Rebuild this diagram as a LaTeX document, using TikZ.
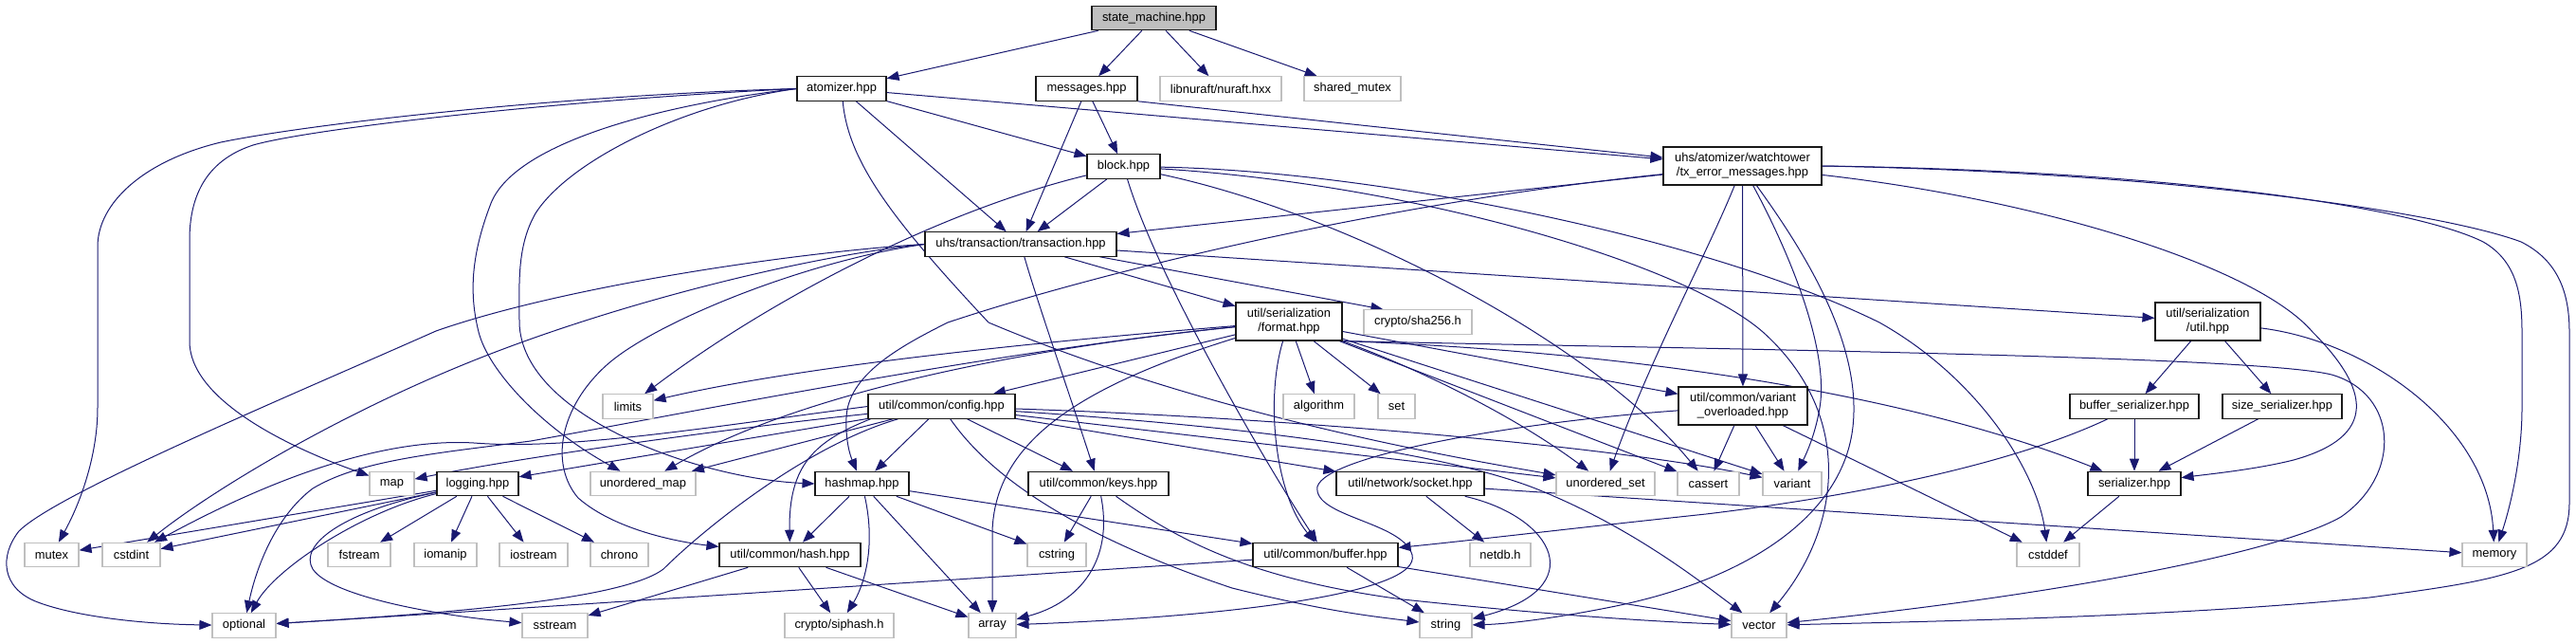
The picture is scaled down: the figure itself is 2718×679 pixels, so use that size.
\documentclass[tikz,border=0pt]{standalone}
\usepackage{fontspec}
\setmainfont{Liberation Sans}
\usetikzlibrary{arrows.meta,backgrounds}
\definecolor{edgec}{HTML}{191970}
\definecolor{grayb}{HTML}{BFBFBF}
\begin{document}
\begin{tikzpicture}[x=1pt,y=-1pt,
  font=\fontsize{12.9pt}{15pt}\selectfont,
  nbox/.style={draw, line width=1.1pt, inner sep=0pt, minimum height=25.5pt, align=center, fill=white},
  fn/.style={nbox, draw=black!90},
  sys/.style={nbox, draw=grayb},
  rootn/.style={nbox, draw=black!90, fill=grayb},
  edg/.style={draw=edgec, line width=1pt, -{Triangle[length=13pt,width=10pt]}},
  ]
\useasboundingbox (0,0) rectangle (2718,679);
% nodes
\node[rootn, minimum width=131pt] (sm) at (1217.5,19) {state\_machine.hpp};
\node[fn, minimum width=94pt] (atom) at (888,93.5) {atomizer.hpp};
\node[fn, minimum width=107pt] (msg) at (1146.5,93.5) {messages.hpp};
\node[sys, minimum width=128pt] (nuraft) at (1288,93.5) {libnuraft/nuraft.hxx};
\node[sys, minimum width=102pt] (shm) at (1427,93.5) {shared\_mutex};
\node[fn, minimum width=77pt] (block) at (1185.5,175.5) {block.hpp};
\node[fn, minimum width=167pt, minimum height=40pt] (txerr) at (1838.5,175) {uhs/atomizer/watchtower\\/tx\_error\_messages.hpp};
\node[fn, minimum width=202pt] (trans) at (1077,257.5) {uhs/transaction/transaction.hpp};
\node[fn, minimum width=112pt, minimum height=40pt] (format) at (1360,339) {util/serialization\\/format.hpp};
\node[sys, minimum width=114pt] (sha) at (1496,339.5) {crypto/sha256.h};
\node[fn, minimum width=111pt, minimum height=40pt] (sutil) at (2329.5,339) {util/serialization\\/util.hpp};
\node[sys, minimum width=53pt] (limits) at (662.5,428.5) {limits};
\node[fn, minimum width=155pt] (config) at (993.5,428.5) {util/common/config.hpp};
\node[sys, minimum width=75pt] (algo) at (1391.5,428.5) {algorithm};
\node[sys, minimum width=39pt] (set) at (1473.5,428.5) {set};
\node[fn, minimum width=136pt, minimum height=40pt] (varov) at (1839,428) {util/common/variant\\\_overloaded.hpp};
\node[fn, minimum width=136pt] (bufser) at (2252,428.5) {buffer\_serializer.hpp};
\node[fn, minimum width=126pt] (sizeser) at (2408,428.5) {size\_serializer.hpp};
\node[sys, minimum width=47pt] (map) at (413.5,510) {map};
\node[fn, minimum width=86pt] (logging) at (504,510) {logging.hpp};
\node[sys, minimum width=111pt] (umap) at (678.5,510) {unordered\_map};
\node[fn, minimum width=99pt] (hashmap) at (909.5,510) {hashmap.hpp};
\node[fn, minimum width=148pt] (keys) at (1159,510) {util/common/keys.hpp};
\node[fn, minimum width=156pt] (socket) at (1488,510) {util/network/socket.hpp};
\node[sys, minimum width=104pt] (uset) at (1694,510) {unordered\_set};
\node[sys, minimum width=65pt] (cassert) at (1802.5,510) {cassert};
\node[sys, minimum width=62pt] (variant) at (1891,510) {variant};
\node[fn, minimum width=98pt] (ser) at (2252,510) {serializer.hpp};
\node[sys, minimum width=57pt] (mutex) at (54.5,585) {mutex};
\node[sys, minimum width=61pt] (cstdint) at (138.5,585) {cstdint};
\node[sys, minimum width=66pt] (fstream) at (379,585) {fstream};
\node[sys, minimum width=66pt] (iomanip) at (470,585) {iomanip};
\node[sys, minimum width=72pt] (iostream) at (563,585) {iostream};
\node[sys, minimum width=61pt] (chrono) at (653.5,585) {chrono};
\node[fn, minimum width=149pt] (hash) at (833.5,585) {util/common/hash.hpp};
\node[sys, minimum width=62pt] (cstring) at (1115,585) {cstring};
\node[fn, minimum width=153pt] (buffer) at (1398.5,585) {util/common/buffer.hpp};
\node[sys, minimum width=64pt] (netdb) at (1583,585) {netdb.h};
\node[sys, minimum width=66pt] (cstddef) at (2161,585) {cstddef};
\node[sys, minimum width=68pt] (memory) at (2632,585) {memory};
\node[sys, minimum width=67pt] (optional) at (257.5,659.5) {optional};
\node[sys, minimum width=69pt] (sstream) at (585.5,659.5) {sstream};
\node[sys, minimum width=115pt] (siphash) at (885.5,659.5) {crypto/siphash.h};
\node[sys, minimum width=50pt] (array) at (1047,659.5) {array};
\node[sys, minimum width=55pt] (string) at (1525.5,659.5) {string};
\node[sys, minimum width=58pt] (vector) at (1856,659.5) {vector};

\begin{pgfonlayer}{background}
% state_machine
\draw[edg] (sm) -- (atom);
\draw[edg] (sm) -- (msg);
\draw[edg] (sm) -- (nuraft);
\draw[edg] (sm) -- (shm);
% atomizer
\draw[edg] (atom.west) .. controls (600,100) and (330,130) .. (233,150) .. controls (150,170) and (103,215) .. (103,260) -- (103,430) .. controls (103,480) and (85,530) .. (mutex);
\draw[edg] (atom.west) .. controls (600,105) and (330,135) .. (267,153) .. controls (215,170) and (200,210) .. (200,253) -- (200,360) .. controls (200,420) and (300,470) .. (map);
\draw[edg] (atom.west) .. controls (700,110) and (540,150) .. (517,217) .. controls (497,270) and (495,310) .. (505,350) .. controls (515,390) and (570,450) .. (umap);
\draw[edg] (atom.west) .. controls (720,110) and (600,170) .. (565,225) .. controls (545,260) and (548,300) .. (548,340) .. controls (550,440) and (740,505) .. (hashmap.west);
\draw[edg] (atom) .. controls (895,170) and (940,230) .. (1043,340) .. controls (1280,440) and (1550,485) .. (uset);
\draw[edg] (atom) -- (block);
\draw[edg] (atom) -- (trans);
\draw[edg] (atom) -- (txerr);
% messages
\draw[edg] (msg) -- (block);
\draw[edg] (msg) -- (trans);
\draw[edg] (msg.south east) -- (txerr);
% block
\draw[edg] (block) -- (trans);
\draw[edg] (block) .. controls (1000,220) and (820,310) .. (limits);
\draw[edg] (block) .. controls (1220,290) and (1330,480) .. (buffer);
\draw[edg] (block) .. controls (1420,225) and (1680,360) .. (cassert);
\draw[edg] (block) .. controls (1450,180) and (1800,250) .. (1983,340) .. controls (2090,400) and (2150,500) .. (cstddef);
\draw[edg] (block) .. controls (1500,195) and (1780,280) .. (1860,350) .. controls (1960,440) and (1940,560) .. (vector);
% tx_error_messages
\draw[edg] (txerr) -- (trans);
\draw[edg] (txerr) .. controls (1450,215) and (1150,290) .. (1000,340) .. controls (950,365) and (895,395) .. (893,440) .. controls (892,465) and (897,480) .. (hashmap);
\draw[edg] (txerr) -- (varov);
\draw[edg] (txerr) .. controls (1800,270) and (1740,380) .. (uset);
\draw[edg] (txerr) .. controls (1890,270) and (1930,370) .. (1920,430) .. controls (1915,460) and (1905,480) .. (variant);
\draw[edg] (txerr) .. controls (2150,210) and (2380,280) .. (2440,350) .. controls (2500,410) and (2510,460) .. (2420,485) .. controls (2380,495) and (2330,500) .. (ser);
\draw[edg] (txerr.east) .. controls (2300,180) and (2550,220) .. (2620,255) .. controls (2655,275) and (2661,310) .. (2661,350) -- (2661,430) .. controls (2661,480) and (2650,530) .. (memory);
\draw[edg] (txerr.east) .. controls (2300,182) and (2580,225) .. (2660,255) .. controls (2700,275) and (2711,310) .. (2711,350) -- (2711,530) .. controls (2711,600) and (2650,610) .. (2500,630) .. controls (2300,650) and (2050,655) .. (vector);
\draw[edg] (txerr) .. controls (1900,260) and (1965,360) .. (1955,450) .. controls (1945,540) and (1850,610) .. (1700,640) .. controls (1640,652) and (1590,658) .. (string);
% transaction
\draw[edg] (trans.west) .. controls (850,265) and (600,300) .. (460,349) .. controls (300,420) and (60,520) .. (20,560) .. controls (0,585) and (0,620) .. (40,635) .. controls (80,650) and (150,658) .. (optional);
\draw[edg] (trans.west) .. controls (850,270) and (650,320) .. (500,380) .. controls (350,440) and (220,520) .. (cstdint);
\draw[edg] (trans.west) .. controls (850,275) and (690,340) .. (640,385) .. controls (590,430) and (580,490) .. (610,525) .. controls (650,560) and (720,572) .. (hash);
\draw[edg] (trans) .. controls (1095,320) and (1130,420) .. (keys);
\draw[edg] (trans) -- (format);
\draw[edg] ([xshift=-18pt]trans.south east) -- ([xshift=21pt]sha.north west);
\draw[edg] (trans) -- (sutil);
% format
\draw[edg] (format) -- (config);
\draw[edg] (format) .. controls (1130,410) and (1050,470) .. (1047,560) -- (array);
\draw[edg] (format) .. controls (1100,360) and (850,385) .. (limits);
\draw[edg] (format) .. controls (1100,365) and (850,410) .. (umap);
\draw[edg] (format) .. controls (1050,370) and (700,440) .. (560,465) .. controls (460,478) and (380,485) .. (330,515) .. controls (290,545) and (270,600) .. (optional);
\draw[edg] (format) -- (algo);
\draw[edg] (format) -- (set);
\draw[edg] (format) .. controls (1500,390) and (1600,440) .. (uset);
\draw[edg] (format) -- (cassert);
\draw[edg] (format) -- (variant);
\draw[edg] (format) -- (varov);
\draw[edg] (format.south east) .. controls (1700,370) and (2000,410) .. (ser);
\draw[edg] (format.south east) .. controls (1800,368) and (2380,375) .. (2460,395) .. controls (2530,415) and (2535,500) .. (2470,545) .. controls (2400,585) and (2150,630) .. (vector);
\draw[edg] (format) .. controls (1335,420) and (1345,520) .. (buffer);
% config
\draw[edg] (config) .. controls (800,448) and (560,480) .. (map);
\draw[edg] (config) -- (logging);
\draw[edg] (config) -- (umap);
\draw[edg] (config.west) .. controls (750,450) and (600,475) .. (500,467) .. controls (380,460) and (240,530) .. (cstdint);
\draw[edg] (config) .. controls (850,470) and (740,560) .. (700,600) .. controls (660,630) and (500,645) .. (optional);
\draw[edg] (config) -- (hashmap);
\draw[edg] ([xshift=3pt]config.south west) .. controls (860,465) and (832,490) .. (hash);
\draw[edg] (config) -- (keys);
\draw[edg] (config) .. controls (1050,510) and (1150,570) .. (1300,620) .. controls (1400,645) and (1450,650) .. (string);
\draw[edg] (config) -- (uset);
\draw[edg] (config) .. controls (1350,440) and (1700,470) .. (variant);
\draw[edg] (config) .. controls (1350,452) and (1530,480) .. (1620,515) .. controls (1720,555) and (1790,610) .. (vector);
\draw[edg] (config) -- (socket);
% keys
\draw[edg] (keys) -- (cstring);
\draw[edg] (keys) .. controls (1175,590) and (1140,635) .. (array);
\draw[edg] (keys) .. controls (1250,575) and (1330,612) .. (1480,632) .. controls (1650,650) and (1760,656) .. (vector);
% hashmap
\draw[edg] (hashmap) -- (hash);
\draw[edg] (hashmap) .. controls (925,580) and (910,620) .. (siphash);
\draw[edg] (hashmap) -- (array);
\draw[edg] (hashmap) -- (cstring);
\draw[edg] (hashmap) -- (buffer);
% hash
\draw[edg] (hash) -- (sstream);
\draw[edg] (hash) -- (siphash);
\draw[edg] (hash) -- (array);
% buffer
\draw[edg] (buffer) .. controls (1100,605) and (500,645) .. (optional);
\draw[edg] (buffer) -- (string);
\draw[edg] (buffer) -- (vector);
% socket
\draw[edg] (socket) -- (netdb);
\draw[edg] (socket) .. controls (1640,545) and (1680,620) .. (string);
\draw[edg] (socket) -- (memory);
% variant_overloaded
\draw[edg] (varov) -- (cassert);
\draw[edg] (varov) -- (variant);
\draw[edg] (varov) -- (cstddef);
\draw[edg] (varov) .. controls (1600,445) and (1400,480) .. (1390,513) .. controls (1385,545) and (1480,550) .. (1490,585) .. controls (1500,625) and (1300,650) .. (array);
% serialization util
\draw[edg] (sutil) -- (bufser);
\draw[edg] (sutil) -- (sizeser);
\draw[edg] (sutil) .. controls (2500,360) and (2625,450) .. (memory);
\draw[edg] (bufser) -- (ser);
\draw[edg] (bufser) .. controls (2100,500) and (1900,530) .. (1800,542) .. controls (1650,558) and (1550,570) .. (buffer);
\draw[edg] (sizeser) -- (ser);
\draw[edg] (ser) -- (cstddef);
% logging
\draw[edg] (logging) -- (mutex);
\draw[edg] (logging) -- (cstdint);
\draw[edg] (logging) .. controls (380,540) and (290,600) .. (optional);
\draw[edg] (logging) -- (fstream);
\draw[edg] (logging) -- (iomanip);
\draw[edg] (logging) -- (iostream);
\draw[edg] (logging) -- (chrono);
\draw[edg] (logging) .. controls (360,540) and (315,575) .. (330,600) .. controls (350,630) and (470,650) .. (sstream);
\end{pgfonlayer}
\end{tikzpicture}
\end{document}
